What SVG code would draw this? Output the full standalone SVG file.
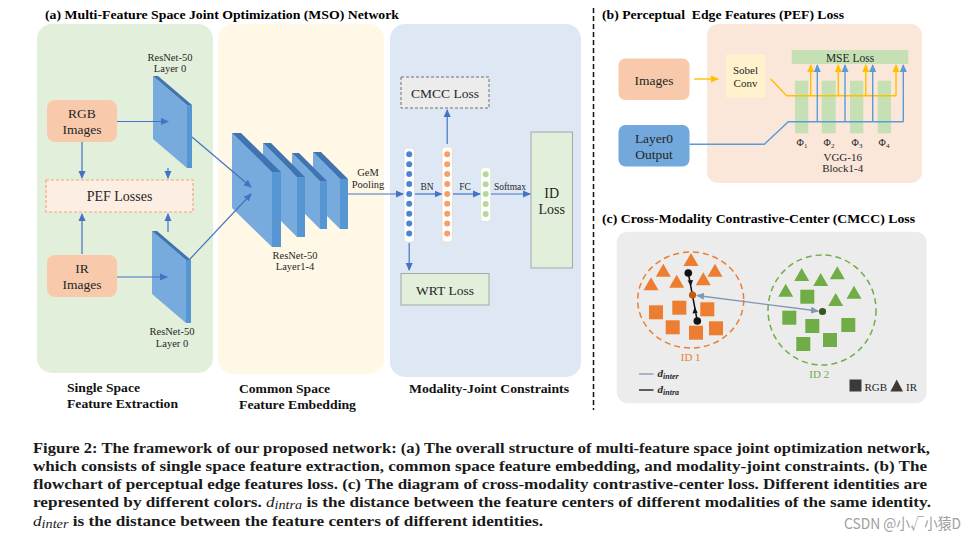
<svg xmlns="http://www.w3.org/2000/svg" xmlns:xlink="http://www.w3.org/1999/xlink" width="976" height="540" viewBox="0 0 976 540">
<style>
text{font-family:"Liberation Serif","Times New Roman",serif;fill:#262626}
.t{font-weight:bold;fill:#000}
.sec{font-weight:bold;font-size:13px;fill:#111}
.c{text-anchor:middle}
.lbl{font-size:13.5px}
.sm{font-size:10.5px}
.xs{font-size:9.5px}
.cap{font-weight:bold;font-size:14.5px;fill:#1a1a1a}
.ar{stroke:#4472c4;stroke-width:1.2;fill:none}
.sf{fill:#77abde}.st{fill:#3f74b0}.sr{fill:#5696d2}
.dotb{fill:#4a86d0}.doto{fill:#f4a06a}.dotg{fill:#b5d99c}
.yl{stroke:#ffc000;stroke-width:1.4;fill:none}
.bl{stroke:#5b9bd5;stroke-width:1.4;fill:none}
.or{fill:#ed7d31}.gr{fill:#70ad47}
</style>
<defs>
<marker id="ma" markerWidth="8" markerHeight="8" refX="7" refY="4" orient="auto" markerUnits="userSpaceOnUse"><path d="M0,0.5 L8,4 L0,7.5 Z" fill="#4472c4"/></marker>
<marker id="my" markerWidth="8" markerHeight="8" refX="7" refY="4" orient="auto" markerUnits="userSpaceOnUse"><path d="M0,0.5 L8,4 L0,7.5 Z" fill="#ffc000"/></marker>
<marker id="mb" markerWidth="8" markerHeight="8" refX="7" refY="4" orient="auto" markerUnits="userSpaceOnUse"><path d="M0,0.5 L8,4 L0,7.5 Z" fill="#5b9bd5"/></marker>
<marker id="mg" markerWidth="8" markerHeight="8" refX="7" refY="4" orient="auto-start-reverse" markerUnits="userSpaceOnUse"><path d="M0,0.5 L8,4 L0,7.5 Z" fill="#8497b0"/></marker>
<path id="tri" d="M0,-7 L7.5,6 L-7.5,6 Z"/>
<rect id="sq" x="-7" y="-7" width="14" height="14"/>
</defs>
<rect width="976" height="540" fill="#fff"/>

<!-- Panel (a) titles and backgrounds -->
<text class="t" x="45" y="19" font-size="13" textLength="354" lengthAdjust="spacingAndGlyphs">(a) Multi-Feature Space Joint Optimization (MSO) Network</text>
<g id="bg-a">
<rect x="37" y="24" width="176" height="349" rx="15" fill="#e2efda"/>
<rect x="218" y="24" width="166" height="350" rx="15" fill="#fff8e7"/>
<rect x="390" y="24" width="191" height="353" rx="15" fill="#dde8f4"/>
</g>
<text class="sec" x="67" y="392" textLength="73" lengthAdjust="spacingAndGlyphs">Single Space</text>
<text class="sec" x="67" y="408" textLength="111" lengthAdjust="spacingAndGlyphs">Feature Extraction</text>
<text class="sec" x="239" y="393" textLength="91" lengthAdjust="spacingAndGlyphs">Common Space</text>
<text class="sec" x="239" y="409" textLength="117" lengthAdjust="spacingAndGlyphs">Feature Embedding</text>
<text class="sec" x="409" y="393" textLength="160" lengthAdjust="spacingAndGlyphs">Modality-Joint Constraints</text>

<g id="rgb-images">
<rect x="47" y="100" width="70" height="42" rx="8" fill="#f8caab"/>
<text class="lbl c" x="82" y="118">RGB</text>
<text class="lbl c" x="82" y="134">Images</text>
</g>
<g id="ir-images">
<rect x="47" y="255" width="70" height="42" rx="8" fill="#f8caab"/>
<text class="lbl c" x="82" y="273">IR</text>
<text class="lbl c" x="82" y="289">Images</text>
</g>
<g id="pef-losses">
<rect x="46" y="180" width="147" height="32" fill="#fdeee3" stroke="#f4a77a" stroke-width="1.2" stroke-dasharray="3,2"/>
<text class="c" x="119.5" y="201" font-size="14">PEF Losses</text>
</g>
<g id="resnet-l0-rgb">
<text class="sm c" x="170" y="61">ResNet-50</text>
<text class="sm c" x="170" y="72">Layer 0</text>
<polygon class="sf" points="153,76 187,105 187,168 153,139"/>
<polygon class="st" points="153,76 158,76 192,105 187,105"/>
<polygon class="sr" points="187,105 192,105 192,168 187,168"/>
</g>
<g id="resnet-l0-ir">
<polygon class="sf" points="152,231 186,260 186,323 152,294"/>
<polygon class="st" points="152,231 157,231 191,260 186,260"/>
<polygon class="sr" points="186,260 191,260 191,323 186,323"/>
<text class="sm c" x="172" y="335">ResNet-50</text>
<text class="sm c" x="172" y="347">Layer 0</text>
</g>
<g id="resnet-l14">
<polygon class="sf" points="313,152 340,179 340,229 313,202"/>
<polygon class="st" points="313,152 321,152 348,179 340,179"/>
<polygon class="sr" points="340,179 348,179 348,229 340,229"/>
<polygon class="sf" points="292,153 320,181 320,229 292,201"/>
<polygon class="st" points="292,153 299,153 327,181 320,181"/>
<polygon class="sr" points="320,181 327,181 327,229 320,229"/>
<polygon class="sf" points="263,143 297,177 297,237 263,203"/>
<polygon class="st" points="263,143 271,143 305,177 297,177"/>
<polygon class="sr" points="297,177 305,177 305,237 297,237"/>
<polygon class="sf" points="232,133 272,172 272,247 232,208"/>
<polygon class="st" points="232,133 241,133 281,172 272,172"/>
<polygon class="sr" points="272,172 281,172 281,247 272,247"/>
<text class="sm c" x="295" y="258.5">ResNet-50</text>
<text class="sm c" x="295" y="270">Layer1-4</text>
</g>
<g id="gem-label">
<text class="sm c" x="368" y="176">GeM</text>
<text class="sm c" x="368" y="187.5">Pooling</text>
</g>
<g id="bn-col">
<rect x="404" y="148" width="10.5" height="94" rx="3" fill="#fff" stroke="#d3dced" stroke-width="0.8"/>
<g class="dotb">
<circle cx="409.2" cy="154.3" r="3"/><circle cx="409.2" cy="164.2" r="3"/><circle cx="409.2" cy="174.1" r="3"/><circle cx="409.2" cy="184" r="3"/><circle cx="409.2" cy="193.9" r="3"/><circle cx="409.2" cy="203.8" r="3"/><circle cx="409.2" cy="213.7" r="3"/><circle cx="409.2" cy="223.6" r="3"/><circle cx="409.2" cy="233.5" r="3"/>
</g>
</g>
<g id="fc-col">
<rect x="442" y="147" width="10.5" height="95" rx="3" fill="#fff" stroke="#f5d5c0" stroke-width="0.8"/>
<g class="doto">
<circle cx="447.2" cy="154.3" r="3"/><circle cx="447.2" cy="164.2" r="3"/><circle cx="447.2" cy="174.1" r="3"/><circle cx="447.2" cy="184" r="3"/><circle cx="447.2" cy="193.9" r="3"/><circle cx="447.2" cy="203.8" r="3"/><circle cx="447.2" cy="213.7" r="3"/><circle cx="447.2" cy="223.6" r="3"/><circle cx="447.2" cy="233.5" r="3"/>
</g>
</g>
<g id="softmax-col">
<rect x="480.7" y="167.5" width="10" height="54" rx="3" fill="#fff" stroke="#d6e8c8" stroke-width="0.8"/>
<g class="dotg">
<circle cx="485.7" cy="174.3" r="3"/><circle cx="485.7" cy="184.2" r="3"/><circle cx="485.7" cy="194.1" r="3"/><circle cx="485.7" cy="204" r="3"/><circle cx="485.7" cy="213.9" r="3"/>
</g>
</g>
<g id="op-labels">
<text class="xs c" x="427" y="190">BN</text>
<text class="xs c" x="465" y="190">FC</text>
<text class="xs c" x="510" y="189.5">Softmax</text>
</g>
<g id="cmcc-loss">
<rect x="401" y="77" width="88" height="31" fill="#ececec" stroke="#707070" stroke-width="1" stroke-dasharray="3,2"/>
<text class="c" x="445" y="98" font-size="13.5">CMCC Loss</text>
</g>
<g id="id-loss">
<rect x="531" y="132" width="41.5" height="136" fill="#e2efda" stroke="#a6a6a6" stroke-width="1"/>
<text class="c" x="551.7" y="198" font-size="14">ID</text>
<text class="c" x="551.7" y="214" font-size="14">Loss</text>
</g>
<g id="wrt-loss">
<rect x="401" y="273.5" width="88" height="31.5" fill="#e2efda" stroke="#a6a6a6" stroke-width="1"/>
<text class="c" x="445" y="295" font-size="13.5">WRT Loss</text>
</g>

<g id="connectors-a">
<line class="ar" x1="117" y1="121.5" x2="168" y2="121.5" marker-end="url(#ma)"/>
<line class="ar" x1="82" y1="142" x2="82" y2="178" marker-end="url(#ma)"/>
<line class="ar" x1="168" y1="168" x2="168" y2="178" marker-end="url(#ma)"/>
<line class="ar" x1="82" y1="254" x2="82" y2="214" marker-end="url(#ma)"/>
<line class="ar" x1="168" y1="232" x2="168" y2="214" marker-end="url(#ma)"/>
<line class="ar" x1="117" y1="277" x2="167" y2="277" marker-end="url(#ma)"/>
<line class="ar" x1="192" y1="137" x2="251" y2="187" marker-end="url(#ma)"/>
<line class="ar" x1="190" y1="259" x2="251" y2="194" marker-end="url(#ma)"/>
<line class="ar" x1="348" y1="194" x2="403" y2="194" marker-end="url(#ma)"/>
<line class="ar" x1="415" y1="194" x2="441.5" y2="194" marker-end="url(#ma)"/>
<line class="ar" x1="453" y1="194" x2="480" y2="194" marker-end="url(#ma)"/>
<line class="ar" x1="491" y1="194" x2="530" y2="194" marker-end="url(#ma)"/>
<line class="ar" x1="447.2" y1="144" x2="447.2" y2="110" marker-end="url(#ma)"/>
<line class="ar" x1="409.2" y1="243" x2="409.2" y2="270" marker-end="url(#ma)"/>
</g>

<!-- divider -->
<line x1="593.5" y1="8" x2="593.5" y2="410" stroke="#111" stroke-width="1.5" stroke-dasharray="5,3"/>

<!-- Panel (b) -->
<text class="t" x="602" y="18.5" font-size="13" textLength="242" lengthAdjust="spacingAndGlyphs">(b) Perceptual&#160; Edge Features (PEF) Loss</text>
<g id="pef-panel">
<rect x="707" y="24" width="215" height="159" rx="11" fill="#fbe7da"/>
</g>
<g id="images-b">
<rect x="618.5" y="58.5" width="71" height="41.5" rx="7" fill="#f8caab"/>
<text class="c" x="654" y="84.5" font-size="13.5">Images</text>
</g>
<g id="layer0-output">
<rect x="618.5" y="125" width="71" height="41.5" rx="7" fill="#72a8dc"/>
<text class="c" x="654" y="142.5" font-size="13.5">Layer0</text>
<text class="c" x="654" y="159" font-size="13.5">Output</text>
</g>
<g id="sobel-conv">
<rect x="726" y="54.5" width="39" height="43" fill="#fff2cc"/>
<text class="c" x="745.5" y="74" font-size="11">Sobel</text>
<text class="c" x="745.5" y="86.5" font-size="11">Conv</text>
</g>
<g id="mse-loss">
<rect x="791.7" y="50" width="116.6" height="14" fill="#c5e0b4"/>
<text class="c" x="850" y="61.5" font-size="11.5">MSE Loss</text>
</g>
<g id="vgg-blocks">
<rect x="795" y="80.7" width="13.3" height="52.6" fill="#c5e0b4"/>
<rect x="821.7" y="80.7" width="14" height="52.6" fill="#c5e0b4"/>
<rect x="850" y="80.7" width="13.3" height="52.6" fill="#c5e0b4"/>
<rect x="877.7" y="80.7" width="13.3" height="52.6" fill="#c5e0b4"/>
<text class="c" x="802" y="146" font-size="10">Φ<tspan font-size="7" dy="2">1</tspan></text>
<text class="c" x="829" y="146" font-size="10">Φ<tspan font-size="7" dy="2">2</tspan></text>
<text class="c" x="857" y="146" font-size="10">Φ<tspan font-size="7" dy="2">3</tspan></text>
<text class="c" x="884" y="146" font-size="10">Φ<tspan font-size="7" dy="2">4</tspan></text>
<text class="c" x="842.7" y="160.5" font-size="11">VGG-16</text>
<text class="c" x="842.7" y="171.5" font-size="11">Block1-4</text>
</g>
<g id="connectors-b">
<line class="yl" x1="694" y1="79" x2="718" y2="79" marker-end="url(#my)"/>
<polyline class="yl" points="770.7,79 786.7,95.7 896,95.7"/>
<line class="yl" x1="810.7" y1="95.7" x2="810.7" y2="65" marker-end="url(#my)"/>
<line class="yl" x1="838.3" y1="95.7" x2="838.3" y2="65" marker-end="url(#my)"/>
<line class="yl" x1="865.7" y1="95.7" x2="865.7" y2="65" marker-end="url(#my)"/>
<line class="yl" x1="896" y1="95.7" x2="896" y2="65" marker-end="url(#my)"/>
<polyline class="bl" points="689.5,144.3 764.3,144.3 788.3,121.7 903.3,121.7"/>
<line class="bl" x1="817.3" y1="121.7" x2="817.3" y2="65" marker-end="url(#mb)"/>
<line class="bl" x1="845" y1="121.7" x2="845" y2="65" marker-end="url(#mb)"/>
<line class="bl" x1="872.7" y1="121.7" x2="872.7" y2="65" marker-end="url(#mb)"/>
<line class="bl" x1="903.3" y1="121.7" x2="903.3" y2="65" marker-end="url(#mb)"/>
</g>

<!-- Panel (c) -->
<text class="t" x="602" y="223" font-size="13" textLength="313" lengthAdjust="spacingAndGlyphs">(c) Cross-Modality Contrastive-Center (CMCC) Loss</text>
<g id="cmcc-panel">
<rect x="616.7" y="231.7" width="310" height="171.6" rx="11" fill="#ececec"/>
</g>
<g id="id1-cluster">
<ellipse cx="690.7" cy="300" rx="53" ry="48" fill="none" stroke="#ed7d31" stroke-width="1.5" stroke-dasharray="6,4"/>
<g class="or">
<use xlink:href="#tri" x="691" y="260"/><use xlink:href="#tri" x="663.3" y="270.7"/><use xlink:href="#tri" x="715" y="270.7"/><use xlink:href="#tri" x="651" y="284.3"/><use xlink:href="#tri" x="676.7" y="281.7"/><use xlink:href="#tri" x="703.3" y="279.3"/>
<use xlink:href="#sq" x="656" y="312.3"/><use xlink:href="#sq" x="679.3" y="307.7"/><use xlink:href="#sq" x="707.3" y="309.3"/><use xlink:href="#sq" x="672.7" y="327.3"/><use xlink:href="#sq" x="696" y="332.7"/><use xlink:href="#sq" x="716" y="328.3"/>
</g>
<text class="c" x="690.7" y="360.5" font-size="11" style="fill:#ed7d31">ID 1</text>
</g>
<g id="id2-cluster">
<ellipse cx="822" cy="310" rx="54" ry="55" fill="none" stroke="#70ad47" stroke-width="1.5" stroke-dasharray="6,4"/>
<g class="gr">
<use xlink:href="#tri" x="801.7" y="275"/><use xlink:href="#tri" x="820.7" y="280"/><use xlink:href="#tri" x="837.3" y="273.3"/><use xlink:href="#tri" x="785.7" y="290.7"/><use xlink:href="#tri" x="854" y="292.7"/><use xlink:href="#tri" x="835.7" y="300"/>
<use xlink:href="#sq" x="807.3" y="296.7"/><use xlink:href="#sq" x="789.3" y="317.7"/><use xlink:href="#sq" x="812.3" y="326"/><use xlink:href="#sq" x="848.3" y="325"/><use xlink:href="#sq" x="803.3" y="344"/><use xlink:href="#sq" x="830" y="340"/>
</g>
<text class="c" x="819.3" y="377.5" font-size="11" style="fill:#70ad47">ID 2</text>
</g>
<g id="connectors-c">
<line x1="688.3" y1="273" x2="697.3" y2="321" stroke="#111" stroke-width="1.5"/>
<path d="M687.6,280.5 L693,280 L690.9,286 Z" fill="#111"/>
<path d="M694.8,307 L697.6,312.8 L692.5,313.5 Z" fill="#111"/>
<line x1="697" y1="295.5" x2="818" y2="311" stroke="#8497b0" stroke-width="1.3" marker-start="url(#mg)" marker-end="url(#mg)"/>
<circle cx="688.3" cy="273" r="3.8" fill="#111"/>
<circle cx="697.3" cy="321" r="3.8" fill="#111"/>
<circle cx="692.5" cy="295" r="3.6" fill="#c55a11"/>
<circle cx="822.5" cy="311.5" r="3.6" fill="#375623"/>
</g>
<g id="legend-c">
<line x1="639" y1="374" x2="653.5" y2="374" stroke="#8497b0" stroke-width="1.3"/>
<text x="657.5" y="377" font-size="11" font-weight="bold" font-style="italic">d<tspan font-size="8" dy="2">inter</tspan></text>
<line x1="639" y1="390" x2="653.5" y2="390" stroke="#111" stroke-width="1.3"/>
<text x="657.5" y="393" font-size="11" font-weight="bold" font-style="italic">d<tspan font-size="8" dy="2">intra</tspan></text>
<rect x="849.5" y="379.5" width="12" height="12" fill="#3a3a3a"/>
<text x="864.5" y="390.5" font-size="11">RGB</text>
<polygon points="896.7,379.5 903,391.5 890.4,391.5" fill="#3a3a3a"/>
<text x="906" y="390.5" font-size="11">IR</text>
</g>

<!-- Caption -->
<g id="caption">
<text class="cap" x="33" y="452.5" textLength="897" lengthAdjust="spacingAndGlyphs">Figure 2: The framework of our proposed network: (a) The overall structure of multi-feature space joint optimization network,</text>
<text class="cap" x="33" y="470.8" textLength="894" lengthAdjust="spacingAndGlyphs">which consists of single space feature extraction, common space feature embedding, and modality-joint constraints. (b) The</text>
<text class="cap" x="33" y="489" textLength="894" lengthAdjust="spacingAndGlyphs">flowchart of perceptual edge features loss. (c) The diagram of cross-modality contrastive-center loss. Different identities are</text>
<text class="cap" x="33" y="507.3" textLength="898" lengthAdjust="spacingAndGlyphs">represented by different colors. <tspan font-weight="normal" font-style="italic">d</tspan><tspan font-weight="normal" font-style="italic" font-size="12" dy="2">intra</tspan><tspan dy="-2"> is the distance between the feature centers of different modalities of the same identity.</tspan></text>
<text class="cap" x="33" y="525.5" textLength="510" lengthAdjust="spacingAndGlyphs"><tspan font-weight="normal" font-style="italic">d</tspan><tspan font-weight="normal" font-style="italic" font-size="12" dy="2">inter</tspan><tspan dy="-2"> is the distance between the feature centers of different identities.</tspan></text>
</g>
<text x="844" y="529" font-size="15" textLength="117" lengthAdjust="spacingAndGlyphs" style="font-family:'Noto Sans CJK SC','Noto Sans',sans-serif;fill:#a0a0a0">CSDN @小√小猿D</text>
</svg>
